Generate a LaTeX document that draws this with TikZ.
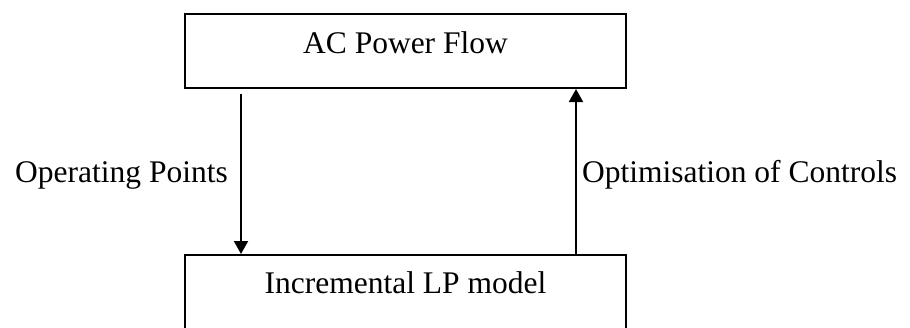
\documentclass[tikz,border=0pt]{standalone}
\usepackage{fontspec}
\setmainfont{Liberation Serif}
\usetikzlibrary{arrows.meta}
\begin{document}
\begin{tikzpicture}[x=1pt,y=-1pt,
  blockbox/.style={draw=black,line width=2pt,minimum width=441pt,inner sep=0pt},
  lbl/.style={font=\fontsize{31.5pt}{36pt}\selectfont,anchor=base,inner sep=0pt},
  flow/.style={line width=2pt,-{Triangle[width=14pt,length=13pt]}}]
  \useasboundingbox (0,0) rectangle (910,327);
  \clip (0,0) rectangle (910,327);

  % the two blocks
  \node[blockbox,minimum height=74pt] (pf) at (405.5,51) {};
  \node[blockbox,minimum height=90pt] (lp) at (405.5,300) {};

  % block captions
  \node[lbl] (pft) at (405.5,53) {AC Power Flow};
  \node[lbl] (lpt) at (405.5,293) {Incremental LP model};

  % connector positions
  \coordinate (xl) at (241,0);
  \coordinate (xr) at (576,0);

  \draw[flow] ([yshift=-5pt]pf.south -| xl) -- (lp.north -| xl);
  \draw[flow] (lp.north -| xr) -- (pf.south -| xr);

  % connector captions
  \node[lbl] (opl) at (121.5,182) {Operating Points};
  \node[lbl] (ocl) at (739.5,182) {Optimisation of Controls};
\end{tikzpicture}
\end{document}
